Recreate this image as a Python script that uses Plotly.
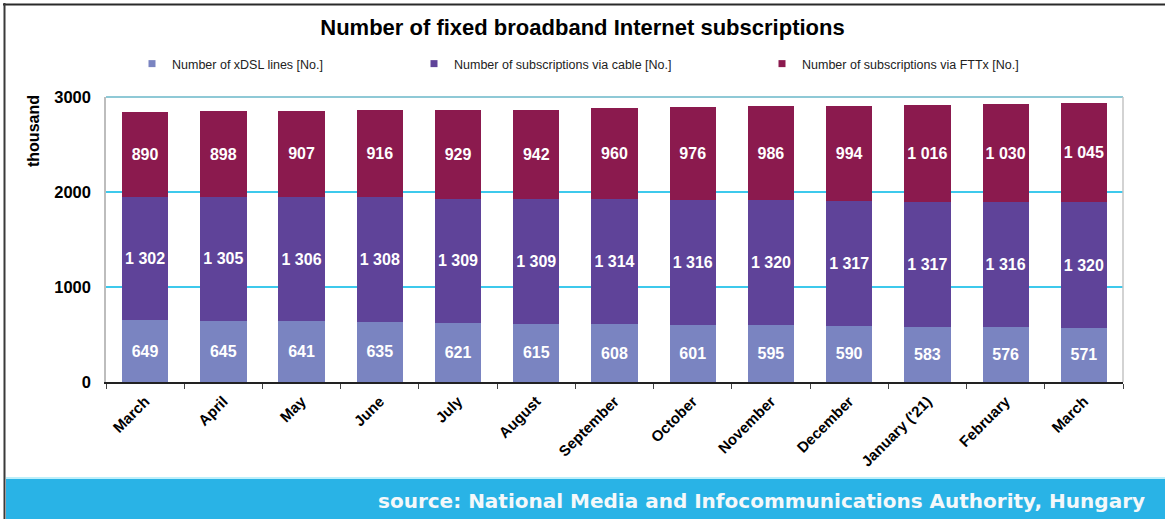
import plotly.graph_objects as go

# ---------------- data ----------------
months = ["March", "April", "May", "June", "July", "August", "September",
          "October", "November", "December", "January ('21)", "February", "March"]
xdsl = [649, 645, 641, 635, 621, 615, 608, 601, 595, 590, 583, 576, 571]
cable = [1302, 1305, 1306, 1308, 1309, 1309, 1314, 1316, 1320, 1317, 1317, 1316, 1320]
fttx = [890, 898, 907, 916, 929, 942, 960, 976, 986, 994, 1016, 1030, 1045]
series_names = ["Number of xDSL lines [No.]",
                "Number of subscriptions via cable [No.]",
                "Number of subscriptions via FTTx [No.]"]
y_ticks = [0, 1000, 2000, 3000]

# ---------------- styles / layout geometry ----------------
colors = ["#7A84C1", "#5F4399", "#8B1A4E"]
W, H = 1165, 519
PL, PR, PT, PB = 106, 1123, 97, 382   # plot area in pixels
FONT = "Liberation Sans, Arial, sans-serif"


def px(x):
    return (x - PL) / (PR - PL)


def py(y):
    return (PB - y) / (PB - PT)


legend_text_x = [170, 452, 800]
legend_ids = ["legend", "legend2", "legend3"]

xpos = list(range(len(months)))

fig = go.Figure()
for vals, name, color, leg in zip([xdsl, cable, fttx], series_names, colors, legend_ids):
    fig.add_trace(go.Bar(
        x=xpos, y=vals, name=name, marker_color=color, marker_line_width=0,
        texttemplate="%{y:,.0f}", textposition="inside", insidetextanchor="middle",
        textangle=0, constraintext="none",
        textfont=dict(family=FONT, size=16, color="white", weight="bold"),
        showlegend=False, legendgroup=name,
    ))
    fig.add_trace(go.Scatter(
        x=[None], y=[None], mode="markers", name=name, legendgroup=name,
        marker=dict(symbol="square", size=7, color=color),
        legend=leg, showlegend=True, hoverinfo="skip",
    ))

legend_common = dict(orientation="h", xanchor="left", yanchor="middle", y=py(64),
                     font=dict(family=FONT, size=12.5, color="#222222"),
                     bgcolor="rgba(0,0,0,0)", borderwidth=0, itemwidth=30)

fig.update_layout(
    width=W, height=H,
    margin=dict(l=PL, r=W - PR, t=PT, b=H - PB, pad=0),
    paper_bgcolor="white", plot_bgcolor="white",
    barmode="stack", bargap=0.408,
    separators=". ",
    title=dict(text="Number of fixed broadband Internet subscriptions",
               x=0.5, xref="container", xanchor="center",
               y=1 - 27 / H, yref="container", yanchor="middle",
               font=dict(family=FONT, size=22, color="black", weight="bold")),
    legend=dict(x=px(legend_text_x[0] - 38), **legend_common),
    legend2=dict(x=px(legend_text_x[1] - 38), **legend_common),
    legend3=dict(x=px(legend_text_x[2] - 38), **legend_common),
    xaxis=dict(
        range=[-0.5, len(months) - 0.5], tickmode="array", tickvals=xpos, ticktext=months,
        tickangle=-45, tickfont=dict(family=FONT, size=15, color="black", weight="bold"),
        showline=True, linecolor="#222222", linewidth=1.5, ticks="", showgrid=False,
        zeroline=False, ticklabelstandoff=3,
        minor=dict(tickmode="array", tickvals=[i - 0.5 for i in range(len(months) + 1)],
                   ticks="outside", ticklen=5, tickcolor="#444444", tickwidth=1,
                   showgrid=False),
    ),
    yaxis=dict(
        range=[0, 3000], tickmode="array", tickvals=y_ticks,
        tickfont=dict(family=FONT, size=16.5, color="black", weight="bold"),
        showgrid=True, gridcolor="#3DC9EC", gridwidth=1.5,
        showline=True, linecolor="#BDBDBD", linewidth=1.5,
        zeroline=False, ticks="", ticklabelstandoff=10,
    ),
    shapes=[
        # plot top / right border
        dict(type="line", xref="paper", yref="paper", x0=0, x1=1, y0=1, y1=1,
             line=dict(color="#8FC9D6", width=2)),
        dict(type="line", xref="paper", yref="paper", x0=1, x1=1, y0=0, y1=1,
             line=dict(color="#C4C4C4", width=1.5)),
        # footer band
        dict(type="rect", xref="paper", yref="paper", x0=px(6), x1=px(W + 5),
             y0=py(H + 5), y1=py(478), fillcolor="#29B3E6", line=dict(width=0)),
        dict(type="line", xref="paper", yref="paper", x0=px(6), x1=px(W + 5),
             y0=py(478), y1=py(478), line=dict(color="#BDEFFA", width=2)),
        # outer frame (top and left)
        dict(type="rect", xref="paper", yref="paper", x0=px(3), x1=px(W + 5),
             y0=py(5.5), y1=py(3.5), fillcolor="#2A2A2A", line=dict(width=0)),
        dict(type="line", xref="paper", yref="paper", x0=px(4.5), x1=px(4.5),
             y0=py(3), y1=py(H + 5), line=dict(color="#3A3A3A", width=2)),
    ],
    annotations=[
        dict(text="thousand", xref="paper", yref="paper", x=px(33), y=py(131),
             textangle=-90, showarrow=False, xanchor="center", yanchor="middle",
             font=dict(family=FONT, size=16, color="black", weight="bold")),
        dict(text="source: National Media and Infocommunications Authority, Hungary",
             xref="paper", yref="paper", x=px(1147), y=py(501), showarrow=False,
             xanchor="right", yanchor="middle",
             font=dict(family="DejaVu Sans, sans-serif", size=20, color="#F4F8FA",
                       weight="bold")),
    ],
)

fig.write_html("out.html",
               config={"displayModeBar": False},
               post_script="document.body.style.margin='0';"
                           "document.body.style.overflow='hidden';")
